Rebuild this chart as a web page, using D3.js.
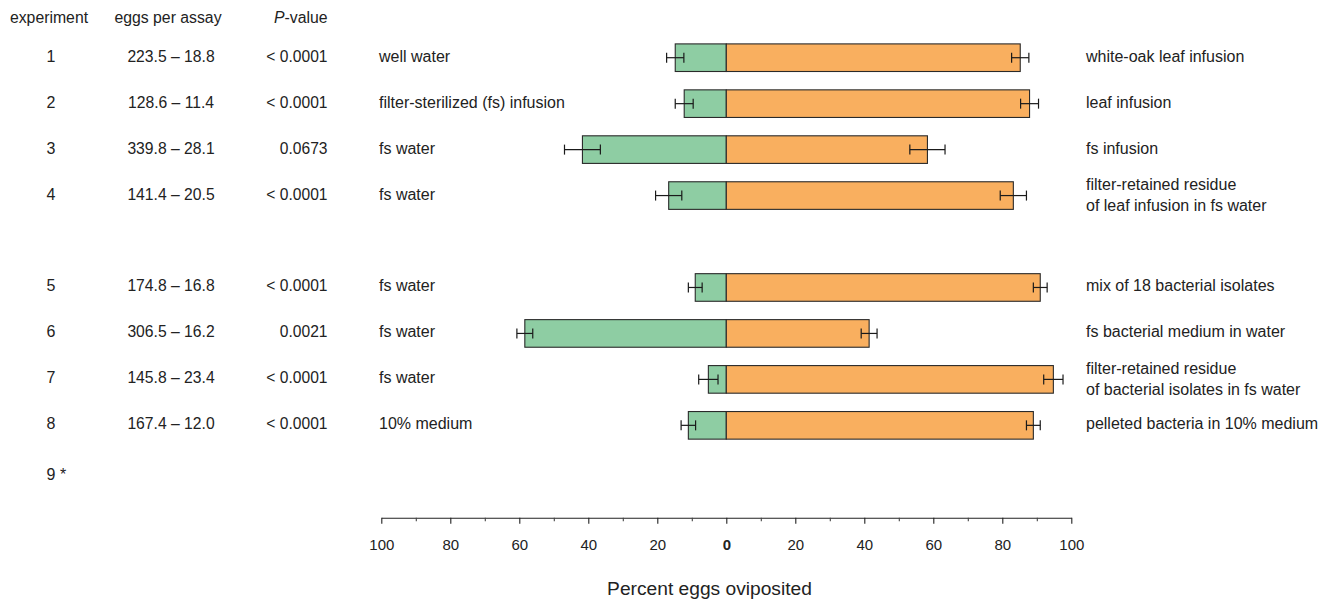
<!DOCTYPE html>
<html>
<head>
<meta charset="utf-8">
<script src="https://cdn.jsdelivr.net/npm/d3@7"></script>
<style>
  html, body { margin: 0; padding: 0; background: #fff; }
  svg { display: block; font-family: "Liberation Sans", Arial, Helvetica, sans-serif; }
</style>
</head>
<body>
<svg id="chart" width="1319" height="599"></svg>
<script>
// ---- data ----
const experiments = ["1", "2", "3", "4", "5", "6", "7", "8"];
const rowSlots = [0, 1, 2, 3, 5, 6, 7, 8];
const eggsPerAssay = ["223.5 – 18.8", "128.6 – 11.4", "339.8 – 28.1", "141.4 – 20.5",
                      "174.8 – 16.8", "306.5 – 16.2", "145.8 – 23.4", "167.4 – 12.0"];
const pValues = ["< 0.0001", "< 0.0001", "0.0673", "< 0.0001",
                 "< 0.0001", "0.0021", "< 0.0001", "< 0.0001"];
const leftLabels = ["well water", "filter-sterilized (fs) infusion", "fs water", "fs water",
                    "fs water", "fs water", "fs water", "10% medium"];
const rightLabels = [
  ["white-oak leaf infusion"],
  ["leaf infusion"],
  ["fs infusion"],
  ["filter-retained residue", "of leaf infusion in fs water"],
  ["mix of 18 bacterial isolates"],
  ["fs bacterial medium in water"],
  ["filter-retained residue", "of bacterial isolates in fs water"],
  ["pelleted bacteria in 10% medium"]
];
const greenPct  = [14.8, 12.2, 41.7, 16.7, 9.0, 58.4, 5.2, 11.0];
const orangePct = [85.2, 87.9, 58.3, 83.2, 91.0, 41.4, 94.8, 89.0];
const greenErr  = [2.5, 2.6, 5.2, 3.8, 2.0, 2.3, 2.8, 2.1];
const orangeErr = [2.5, 2.6, 5.1, 3.8, 2.0, 2.3, 2.8, 2.0];
const extraRow = { label: "9", note: " *", slot: 9.1 };
const headers = ["experiment", "eggs per assay", "P", "-value"];
const majorTicks = [-100, -80, -60, -40, -20, 0, 20, 40, 60, 80, 100];
const minorTicks = [-90, -70, -50, -30, -10, 10, 30, 50, 70, 90];
const axisTitle = "Percent eggs oviposited";

// ---- layout ----
const svg = d3.select("#chart");
const x = d3.scaleLinear().domain([-100, 100]).range([381.3, 1071.3]);
const y = d3.scaleLinear().domain([0, 9]).range([57.7, 471.3]);
const barH = 27.6;
const fs = 16;
const textColor = "#222";
const green = "#8ecda3", orange = "#f9af5f";
const baseOff = 4;

const rows = experiments.map((e, i) => ({
  exp: e, slot: rowSlots[i], eggs: eggsPerAssay[i], p: pValues[i],
  left: leftLabels[i], right: rightLabels[i],
  g: greenPct[i], o: orangePct[i], ge: greenErr[i], oe: orangeErr[i]
}));

// headers
const hdr = svg.append("g").attr("fill", textColor).attr("font-size", 15.8);
hdr.append("text").attr("x", 49).attr("y", 23).attr("text-anchor", "middle").text(headers[0]);
hdr.append("text").attr("x", 168).attr("y", 23).attr("text-anchor", "middle").text(headers[1]);
const pt = hdr.append("text").attr("x", 327.5).attr("y", 23).attr("text-anchor", "end");
pt.append("tspan").attr("font-style", "italic").text(headers[2]);
pt.append("tspan").text(headers[3]);

// table text
const tg = svg.append("g").attr("fill", textColor).attr("font-size", fs);
const rowG = tg.selectAll("g.row").data(rows).join("g").attr("class", "row");
rowG.append("text").attr("x", 51).attr("y", d => y(d.slot) + baseOff)
  .attr("text-anchor", "middle").text(d => d.exp);
rowG.append("text").attr("x", 171).attr("y", d => y(d.slot) + baseOff)
  .attr("text-anchor", "middle").attr("font-size", 15.7).text(d => d.eggs);
rowG.append("text").attr("x", 327.5).attr("y", d => y(d.slot) + baseOff)
  .attr("text-anchor", "end").attr("font-size", 15.6).text(d => d.p);
rowG.append("text").attr("x", 379).attr("y", d => y(d.slot) + baseOff)
  .attr("text-anchor", "start").text(d => d.left);
rowG.append("text").attr("x", 1086)
  .attr("y", d => d.right.length > 1 ? y(d.slot) + 5.2 - 10.5 : y(d.slot) + baseOff)
  .selectAll("tspan").data(d => d.right).join("tspan")
  .attr("x", 1086).attr("dy", (d, i) => i === 0 ? 0 : 21).text(d => d);

// extra row 9 *
const r9 = tg.append("text").attr("y", y(extraRow.slot) + baseOff).attr("text-anchor", "start")
  .text(extraRow.label + extraRow.note);
(function(){
  const tmp = tg.append("text").text(extraRow.label);
  const wd = tmp.node().getComputedTextLength();
  tmp.remove();
  r9.attr("x", 51 - wd / 2);
})();

// bars
const bars = svg.append("g");
const bRow = bars.selectAll("g").data(rows).join("g");
bRow.append("rect")
  .attr("x", d => x(-d.g)).attr("width", d => x(0) - x(-d.g))
  .attr("y", d => y(d.slot) - barH / 2).attr("height", barH)
  .attr("fill", green).attr("stroke", "#2a2a2a").attr("stroke-width", 1.1);
bRow.append("rect")
  .attr("x", x(0)).attr("width", d => x(d.o) - x(0))
  .attr("y", d => y(d.slot) - barH / 2).attr("height", barH)
  .attr("fill", orange).attr("stroke", "#2a2a2a").attr("stroke-width", 1.1);

// error bars
const cap = 5;
function errBar(sel, cx, half, cy) {
  sel.append("line").attr("x1", cx - half).attr("x2", cx + half).attr("y1", cy).attr("y2", cy);
  sel.append("line").attr("x1", cx - half).attr("x2", cx - half).attr("y1", cy - cap).attr("y2", cy + cap);
  sel.append("line").attr("x1", cx + half).attr("x2", cx + half).attr("y1", cy - cap).attr("y2", cy + cap);
}
bRow.each(function(d) {
  const g = d3.select(this).append("g").attr("stroke", "#1a1a1a").attr("stroke-width", 1.2);
  errBar(g, x(-d.g), x(d.ge) - x(0), y(d.slot));
  errBar(g, x(d.o), x(d.oe) - x(0), y(d.slot));
});

// axis
const axisY = 517.7;
const ax = svg.append("g").attr("transform", `translate(0,${axisY})`)
  .call(d3.axisBottom(x).tickValues(majorTicks).tickFormat(d => Math.abs(d))
    .tickSize(6).tickSizeOuter(0).tickPadding(15.5));
ax.select(".domain").attr("stroke", "#222").attr("stroke-width", 1.1);
ax.selectAll(".tick line").attr("stroke", "#222").attr("stroke-width", 1.1);
ax.selectAll(".tick text").attr("font-size", 15).attr("fill", textColor)
  .attr("font-family", "Liberation Sans, Arial, sans-serif")
  .attr("font-weight", d => d === 0 ? "bold" : "normal");
const axMinor = svg.append("g").attr("transform", `translate(0,${axisY})`)
  .call(d3.axisBottom(x).tickValues(minorTicks).tickFormat("").tickSize(3.5).tickSizeOuter(0));
axMinor.select(".domain").remove();
axMinor.selectAll(".tick line").attr("stroke", "#444").attr("stroke-width", 1.1);

svg.append("text").attr("x", 709.5).attr("y", 595).attr("text-anchor", "middle")
  .attr("font-size", 19.2).attr("fill", textColor).text(axisTitle);
</script>
</body>
</html>
